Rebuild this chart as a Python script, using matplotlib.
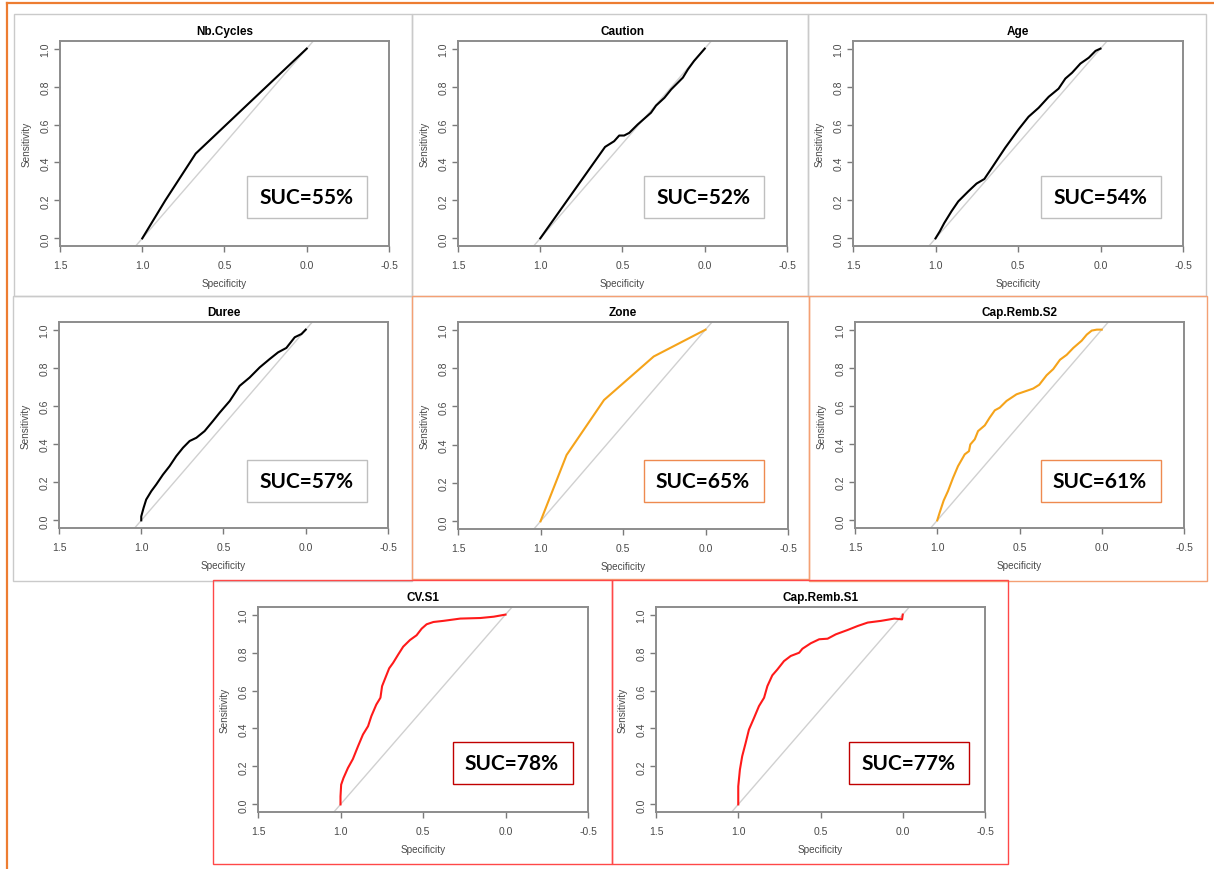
import matplotlib.pyplot as plt
from matplotlib.patches import Rectangle
from matplotlib.lines import Line2D

W, H = 1214, 870

titles = ['Nb.Cycles', 'Caution', 'Age', 'Duree', 'Zone', 'Cap.Remb.S2', 'CV.S1', 'Cap.Remb.S1']
suc = [55, 52, 54, 57, 65, 61, 78, 77]

# specificity / sensitivity
nb_spec = [1.0, 0.86, 0.675, 0.33, 0.0]
nb_sens = [0.0, 0.20, 0.447, 0.73, 1.0]

caution_spec = [1.0, 0.606, 0.551, 0.52, 0.49, 0.459, 0.408, 0.327, 0.296, 0.245, 0.204, 0.133, 0.102, 0.065, 0.0]
caution_sens = [0.0, 0.482, 0.512, 0.542, 0.542, 0.556, 0.60, 0.662, 0.70, 0.741, 0.785, 0.847, 0.891, 0.935, 1.0]

age_spec = [1.0, 0.974, 0.947, 0.903, 0.862, 0.801, 0.751, 0.704, 0.659, 0.578, 0.497, 0.436, 0.375, 0.314,
            0.254, 0.213, 0.172, 0.122, 0.071, 0.030, 0.0]
age_sens = [0.0, 0.037, 0.081, 0.143, 0.195, 0.248, 0.289, 0.313, 0.371, 0.477, 0.574, 0.641, 0.688, 0.746,
            0.789, 0.842, 0.873, 0.921, 0.952, 0.988, 1.0]

duree_spec = [1.0, 1.0, 0.986, 0.970, 0.939, 0.909, 0.868, 0.828, 0.787, 0.746, 0.706, 0.665, 0.615, 0.564,
              0.523, 0.462, 0.402, 0.341, 0.280, 0.219, 0.168, 0.118, 0.067, 0.026, 0.0]
duree_sens = [0.0, 0.021, 0.065, 0.109, 0.153, 0.188, 0.240, 0.284, 0.337, 0.381, 0.416, 0.433, 0.468, 0.521,
              0.565, 0.626, 0.705, 0.749, 0.802, 0.846, 0.881, 0.904, 0.960, 0.977, 1.0]

zone_spec = [1.0, 0.842, 0.615, 0.314, 0.0]
zone_sens = [0.0, 0.346, 0.633, 0.860, 1.0]

cap2_spec = [1.0, 0.986, 0.961, 0.935, 0.904, 0.874, 0.833, 0.807, 0.799, 0.772, 0.752, 0.711, 0.681, 0.650,
             0.620, 0.579, 0.518, 0.457, 0.417, 0.380, 0.335, 0.295, 0.254, 0.213, 0.173, 0.122, 0.091, 0.061,
             0.030, 0.0]
cap2_sens = [0.0, 0.039, 0.104, 0.153, 0.223, 0.284, 0.346, 0.363, 0.398, 0.425, 0.468, 0.498, 0.539, 0.577,
             0.591, 0.626, 0.661, 0.679, 0.691, 0.711, 0.761, 0.793, 0.842, 0.868, 0.904, 0.942, 0.974, 0.995,
             1.0, 1.0]

cv1_spec = [1.0, 1.0, 0.996, 0.982, 0.955, 0.925, 0.894, 0.864, 0.833, 0.813, 0.783, 0.758, 0.748, 0.722,
            0.705, 0.681, 0.650, 0.620, 0.579, 0.539, 0.508, 0.478, 0.437, 0.376, 0.274, 0.152, 0.071, 0.0]
cv1_sens = [0.0, 0.042, 0.104, 0.139, 0.192, 0.239, 0.306, 0.368, 0.412, 0.465, 0.526, 0.562, 0.623, 0.680,
            0.717, 0.746, 0.790, 0.831, 0.866, 0.891, 0.926, 0.949, 0.961, 0.967, 0.979, 0.982, 0.989, 1.0]

cap1_spec = [1.0, 1.0, 0.990, 0.976, 0.955, 0.935, 0.904, 0.874, 0.843, 0.823, 0.793, 0.762, 0.722, 0.681,
             0.630, 0.610, 0.559, 0.508, 0.457, 0.407, 0.335, 0.274, 0.213, 0.132, 0.051, 0.004, 0.0]
cap1_sens = [0.0, 0.095, 0.183, 0.254, 0.324, 0.394, 0.456, 0.518, 0.562, 0.623, 0.680, 0.711, 0.755, 0.782,
             0.799, 0.820, 0.849, 0.870, 0.873, 0.896, 0.919, 0.940, 0.958, 0.967, 0.979, 0.975, 1.0]

specs = [nb_spec, caution_spec, age_spec, duree_spec, zone_spec, cap2_spec, cv1_spec, cap1_spec]
senss = [nb_sens, caution_sens, age_sens, duree_sens, zone_sens, cap2_sens, cv1_sens, cap1_sens]
line_cols = ['black'] * 4 + ['#F5A31A'] * 2 + ['#FF1A1A'] * 2

# layout in pixels (left, top, right, bottom)
frames = [(14, 15, 412, 297), (412, 15, 808, 297), (808, 15, 1206, 297),
          (13, 297, 412, 582), (412, 297, 809, 580), (809, 297, 1207, 582),
          (213, 581, 612, 865), (612, 581, 1008, 865)]
frame_cols = ['#CACACA'] * 4 + ['#F4A074'] * 2 + ['#FF4848'] * 2
ax_boxes = [(60, 42, 389, 247), (458, 42, 787, 247), (853, 42, 1183, 247),
            (59, 323, 388, 529), (458, 323, 788, 530), (855, 323, 1184, 529),
            (258, 608, 588, 813), (656, 608, 985, 813)]
suc_boxes = [(247, 177), (644, 177), (1041, 177), (247, 461), (644, 461), (1041, 461), (453, 743), (849, 743)]
suc_cols = ['#BFBFBF'] * 4 + ['#EE8A50'] * 2 + ['#C00000'] * 2


def fig_rect(fig, l, t, r, b, **kw):
    fig.add_artist(Rectangle((l / W, 1 - b / H), (r - l) / W, (b - t) / H,
                             transform=fig.transFigure, fill=False, **kw))


fig = plt.figure(figsize=(W / 100, H / 100), dpi=100)
fig.patch.set_facecolor('white')

# outer orange lines
fig.add_artist(Line2D([7 / W, 1], [1 - 4 / H, 1 - 4 / H], transform=fig.transFigure, color='#ED7D31', lw=1.6))
fig.add_artist(Line2D([7 / W, 7 / W], [1 - 4 / H, 0], transform=fig.transFigure, color='#ED7D31', lw=1.6))

for i in range(8):
    l, t, r, b = frames[i]
    fig_rect(fig, l, t, r, b, edgecolor=frame_cols[i], lw=1.0, zorder=1 + (i >= 4) + (i >= 6))

    l, t, r, b = ax_boxes[i]
    ax = fig.add_axes([l / W, 1 - b / H, (r - l) / W, (b - t) / H])
    ax.plot([1.5, -0.5], [-0.5, 1.5], color='#D0D0D0', lw=1.0)
    ax.plot(specs[i], senss[i], color=line_cols[i], lw=1.5)
    ax.set_xlim(1.5, -0.5)
    ax.set_ylim(-0.04, 1.04)
    ax.set_xticks([1.5, 1.0, 0.5, 0.0, -0.5])
    ax.set_xticklabels(['1.5', '1.0', '0.5', '0.0', '-0.5'])
    ax.set_yticks([0, 0.2, 0.4, 0.6, 0.8, 1.0])
    ax.set_yticklabels(['0.0', '0.2', '0.4', '0.6', '0.8', '1.0'], rotation=90, va='center')
    ax.tick_params(direction='out', length=4, width=1.0, color='#7A7A7A', labelcolor='#4A4A4A',
                   labelsize=7.5)
    ax.tick_params(axis='x', pad=6)
    ax.tick_params(axis='y', pad=3)
    for s in ax.spines.values():
        s.set_color('#8C8C8C')
        s.set_linewidth(1.4)
    ax.set_title(titles[i], fontsize=8.5, fontweight='bold', family='Liberation Sans', pad=5)
    ax.set_xlabel('Specificity', fontsize=7.2, color='#4A4A4A', family='Liberation Sans')
    ax.set_ylabel('Sensitivity', fontsize=7.2, color='#4A4A4A', family='Liberation Sans')
    ax.xaxis.set_label_coords(0.5, -32 / (b - t))
    ax.yaxis.set_label_coords(-28 / (r - l), 0.5)
    for lab in ax.get_xticklabels() + ax.get_yticklabels():
        lab.set_family('Liberation Sans')

    sx, sy = suc_boxes[i]
    fig_rect(fig, sx, sy, sx + 120, sy + 42, edgecolor=suc_cols[i], lw=1.0, zorder=5)
    fig.text((sx + 59) / W, 1 - (sy + 21) / H, 'SUC=%d%%' % suc[i], family='Lato', fontweight='bold',
             fontsize=15, ha='center', va='center', color='black', zorder=6)

fig.savefig('out.png', dpi=100, facecolor='white')
